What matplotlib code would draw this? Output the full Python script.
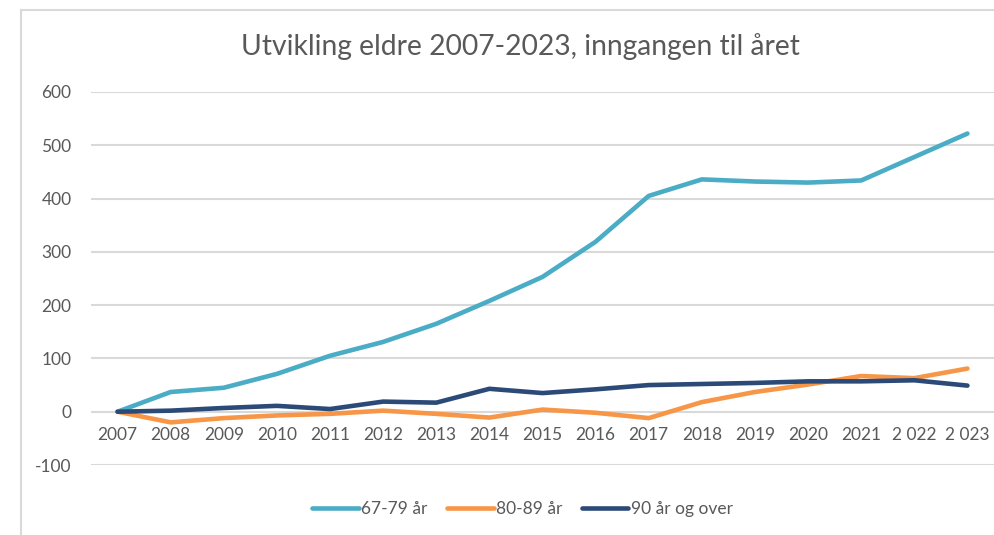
import matplotlib.pyplot as plt
from matplotlib.lines import Line2D

years = ["2007", "2008", "2009", "2010", "2011", "2012", "2013", "2014", "2015",
         "2016", "2017", "2018", "2019", "2020", "2021", "2 022", "2 023"]
age_67_79 = [0, 37, 45, 71, 105, 131, 165, 208, 253, 319, 405, 436, 432, 430, 434, 478, 522]
age_80_89 = [0, -20, -12, -7, -4, 2, -4, -11, 4, -2, -12, 18, 37, 51, 67, 63, 81]
age_90 = [0, 2, 7, 11, 5, 19, 17, 43, 35, 42, 50, 52, 54, 57, 57, 59, 49]
series_names = ["67-79 år", "80-89 år", "90 år og over"]
colors = ["#4BACC6", "#F79646", "#2B4A78"]

plt.rcParams['font.family'] = ['Lato', 'DejaVu Sans']
plt.rcParams['axes.unicode_minus'] = False
text_col = "#595959"
grid_col = "#D9D9D9"

fig = plt.figure(figsize=(9.95, 5.35), dpi=100)
ax = fig.add_axes([91/995, 1 - 465/535, 903/995, 373/535])

x = list(range(len(years)))
for vals, name, c in zip([age_67_79, age_80_89, age_90], series_names, colors):
    ax.plot(x, vals, color=c, lw=3.3, solid_capstyle='round', solid_joinstyle='round', label=name)

ax.set_xlim(-0.5, len(years) - 0.5)
ax.set_ylim(-100, 600)
ax.set_yticks(range(-100, 601, 100))
ax.set_xticks(x)
ax.set_xticklabels(years)
ax.yaxis.grid(True, color=grid_col, lw=1.5)
ax.set_axisbelow(True)
for s in ax.spines.values():
    s.set_visible(False)
ax.spines['bottom'].set_position(('data', 0))
ax.tick_params(axis='x', length=0, pad=11, labelsize=12.5, labelcolor=text_col)
ax.tick_params(axis='y', length=0, pad=14, labelsize=12.5, labelcolor=text_col)

fig.text(0.5226, 1 - 47/535, "Utvikling eldre 2007-2023, inngangen til året",
         ha='center', va='center', fontsize=20.3, color=text_col)

leg = fig.legend(loc='center', bbox_to_anchor=(0.525, 1 - 509/535), ncol=3, frameon=False,
                 fontsize=12.5, handlelength=2.7, handletextpad=0.15, columnspacing=1.1)
for t in leg.get_texts():
    t.set_color(text_col)

# chart frame edges visible in the crop
fig.add_artist(Line2D([21/995, 1], [1 - 10/535, 1 - 10/535], color=grid_col, lw=1.5))
fig.add_artist(Line2D([21/995, 21/995], [0, 1 - 10/535], color=grid_col, lw=1.5))

fig.savefig("out.png", dpi=100)
